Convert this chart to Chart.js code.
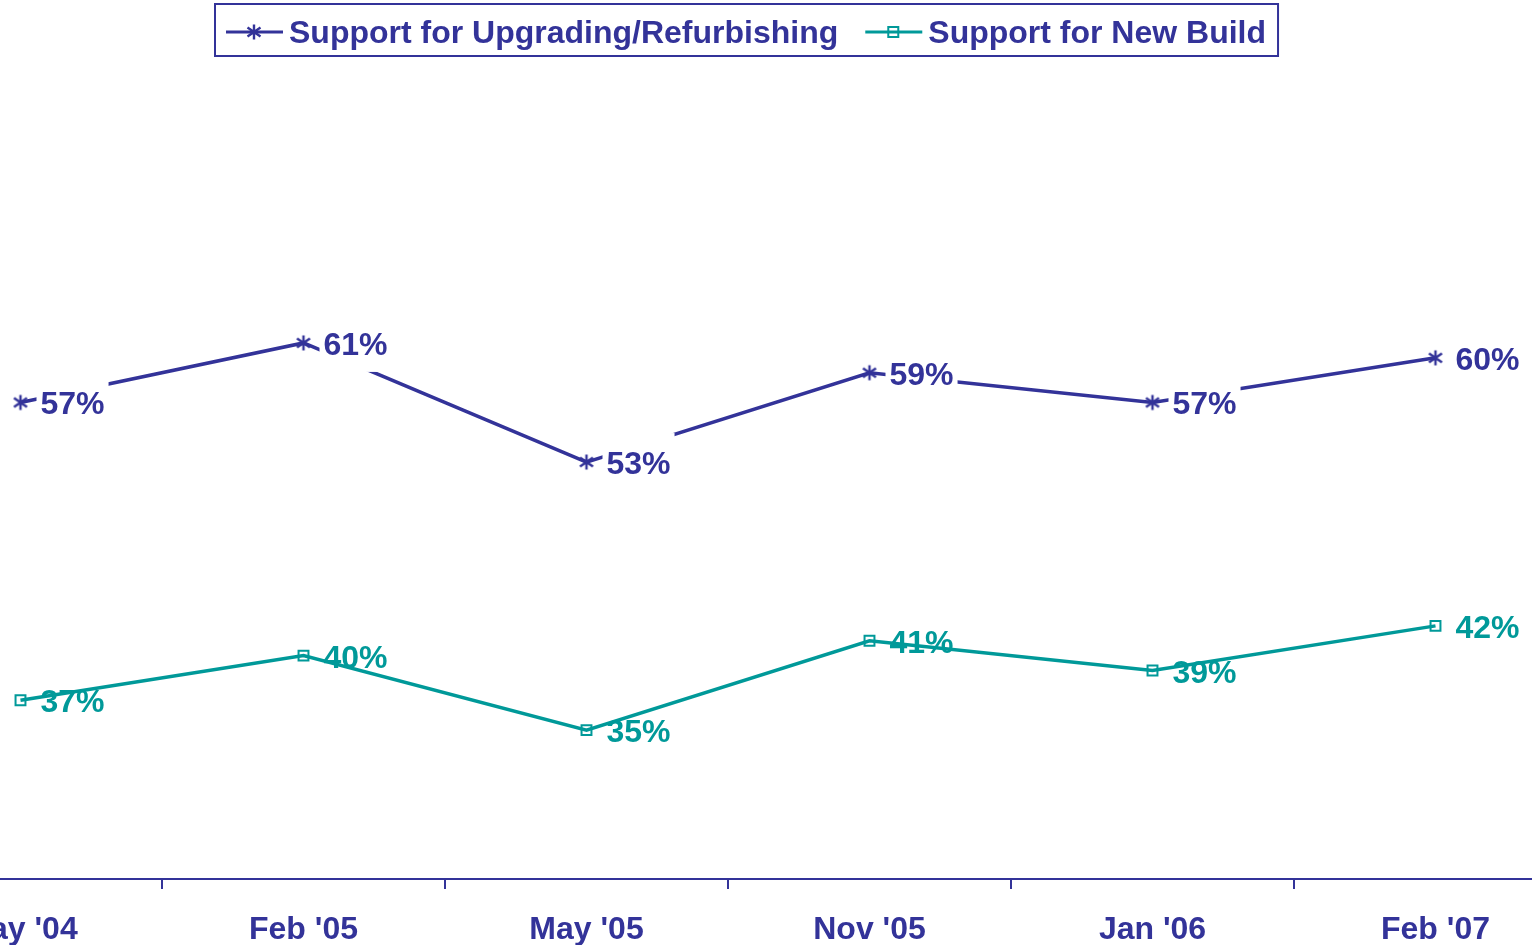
<!DOCTYPE html>
<html>
<head>
<meta charset="utf-8">
<title>Support for Upgrading vs New Build</title>
<script src="https://cdn.jsdelivr.net/npm/chart.js@4.4.1/dist/chart.umd.min.js"></script>
<style>
  html, body { margin: 0; padding: 0; background: #fff; overflow: hidden; }
  body { width: 1532px; height: 945px; position: relative; }
  #wrap { position: absolute; left: -121px; top: 0; width: 1698px; height: 945px; }
</style>
</head>
<body>
<div id="wrap"><canvas id="trendChart"></canvas></div>
<script>
const categories = ["May '04", "Feb '05", "May '05", "Nov '05", "Jan '06", "Feb '07"];
const seriesNames = ['Support for Upgrading/Refurbishing', 'Support for New Build'];
const upgrading = [57, 61, 53, 59, 57, 60];
const newBuild = [37, 40, 35, 41, 39, 42];

const navy = '#333399';
const teal = '#009999';
const family = '"Liberation Sans", Arial, Helvetica, sans-serif';
const pageShift = 121; // canvas starts 121px left of the page edge

// excel-like asterisk marker
function makeStar(color) {
  const c = document.createElement('canvas');
  c.width = 18; c.height = 18;
  const g = c.getContext('2d');
  g.strokeStyle = color;
  g.lineWidth = 2.4;
  g.lineCap = 'butt';
  g.beginPath();
  g.moveTo(9, 1.5); g.lineTo(9, 16.5);
  g.moveTo(2.5, 4.5); g.lineTo(15.5, 13.5);
  g.moveTo(15.5, 4.5); g.lineTo(2.5, 13.5);
  g.stroke();
  return c;
}
const starMarker = makeStar(navy);

const valueLabels = {
  id: 'valueLabels',
  afterDatasetsDraw(chart) {
    const ctx = chart.ctx;
    ctx.save();
    ctx.font = `bold 32px ${family}`;
    ctx.textAlign = 'left';
    ctx.textBaseline = 'alphabetic';
    chart.data.datasets.forEach((ds, i) => {
      const meta = chart.getDatasetMeta(i);
      meta.data.forEach((pt, j) => {
        const text = ds.data[j] + '%';
        const tx = pt.x + 20;
        const w = ctx.measureText(text).width;
        if (ds.labelBox) {
          ctx.fillStyle = '#ffffff';
          ctx.fillRect(tx - 4, pt.y - 29, w + 8, 58);
        }
        ctx.fillStyle = ds.borderColor;
        ctx.fillText(text, tx, pt.y + 12);
      });
    });
    ctx.restore();
  }
};

const boxedLegend = {
  id: 'boxedLegend',
  afterDraw(chart) {
    const ctx = chart.ctx;
    ctx.save();
    ctx.font = `bold 32px ${family}`;
    ctx.textBaseline = 'alphabetic';
    const left = 215 + pageShift;
    const midY = 32;
    let cursor = left + 11;
    chart.data.datasets.forEach((ds, i) => {
      ctx.strokeStyle = ds.borderColor;
      ctx.lineWidth = 3;
      ctx.beginPath();
      ctx.moveTo(cursor, midY);
      ctx.lineTo(cursor + 57, midY);
      ctx.stroke();
      const mx = cursor + 28;
      if (ds.pointStyle === 'rect') {
        ctx.lineWidth = 2;
        ctx.strokeRect(mx - 5, midY - 5, 10, 10);
      } else {
        ctx.drawImage(starMarker, mx - 9, midY - 9);
      }
      cursor += 63;
      ctx.fillStyle = navy;
      ctx.fillText(ds.label, cursor, midY + 11);
      cursor += ctx.measureText(ds.label).width + 27;
    });
    const right = cursor - 27 + 12;
    ctx.strokeStyle = navy;
    ctx.lineWidth = 2;
    ctx.strokeRect(left, 4, right - left, 52);
    ctx.restore();
  }
};

new Chart(document.getElementById('trendChart'), {
  type: 'line',
  data: {
    labels: categories,
    datasets: [
      {
        label: seriesNames[0],
        data: upgrading,
        borderColor: navy,
        borderWidth: 3.5,
        pointStyle: starMarker,
        pointRadius: 7,
        tension: 0,
        fill: false,
        labelBox: true
      },
      {
        label: seriesNames[1],
        data: newBuild,
        borderColor: teal,
        borderWidth: 3.5,
        pointStyle: 'rect',
        pointRadius: 7,
        pointBorderWidth: 2,
        pointBackgroundColor: 'rgba(0,0,0,0)',
        pointBorderColor: teal,
        tension: 0,
        fill: false,
        labelBox: false
      }
    ]
  },
  options: {
    responsive: true,
    maintainAspectRatio: false,
    animation: false,
    layout: { autoPadding: false, padding: { top: 60, left: 0, right: 0, bottom: 0 } },
    plugins: {
      legend: { display: false },
      tooltip: { enabled: false }
    },
    scales: {
      x: {
        offset: true,
        grid: {
          offset: true,
          drawOnChartArea: false,
          drawTicks: true,
          tickLength: 10,
          color: navy,
          lineWidth: 2
        },
        border: { color: navy, width: 2 },
        ticks: {
          color: navy,
          padding: 25,
          maxRotation: 0,
          autoSkip: false,
          font: { family: family, size: 32, weight: 'bold', lineHeight: 1.03 }
        },
        afterFit(scale) {
          scale.height = 66;
        }
      },
      y: {
        display: false,
        min: 25,
        max: 80
      }
    }
  },
  plugins: [valueLabels, boxedLegend]
});
</script>
</body>
</html>
